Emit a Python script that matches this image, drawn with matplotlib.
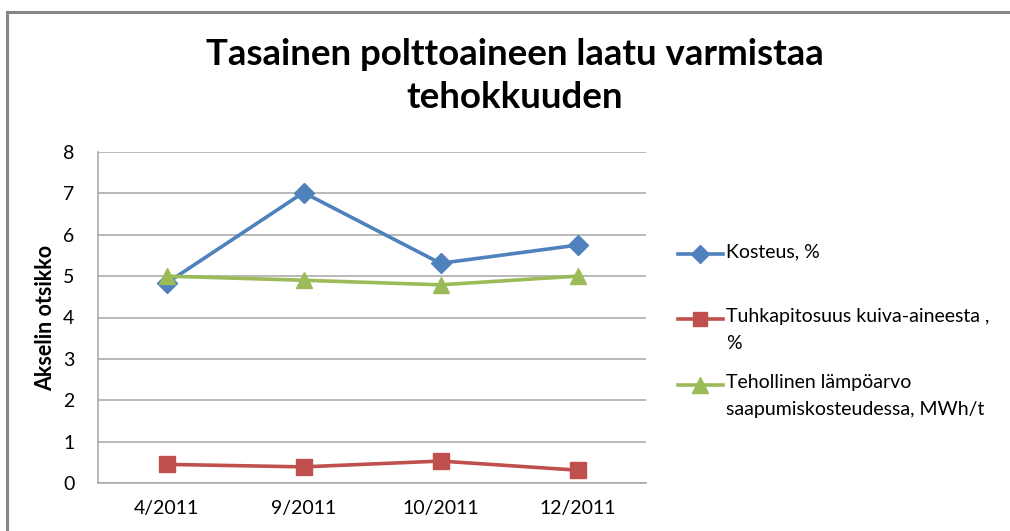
import matplotlib
matplotlib.use("Agg")
import matplotlib.pyplot as plt
from matplotlib.lines import Line2D

plt.rcParams['font.family'] = ['Lato', 'DejaVu Sans']

categories = ["4/2011", "9/2011", "10/2011", "12/2011"]
kosteus = [4.83, 7.02, 5.31, 5.75]
tuhka = [0.45, 0.39, 0.53, 0.31]
tehollinen = [5.0, 4.9, 4.79, 5.0]
series_names = ["Kosteus, %", "Tuhkapitosuus kuiva-aineesta ,\n%",
                "Tehollinen lämpöarvo\nsaapumiskosteudessa, MWh/t"]
title = "Tasainen polttoaineen laatu varmistaa\ntehokkuuden"
ylabel = "Akselin otsikko"

W, H = 1010, 531
fig = plt.figure(figsize=(W / 100, H / 100), dpi=100)
fig.patch.set_facecolor("white")

# outer chart frame (left and top visible)
fig.add_artist(Line2D([7 / W, 7 / W], [0, 1 - 12 / H], transform=fig.transFigure,
                      color="#868686", lw=2.2))
fig.add_artist(Line2D([7 / W, 1], [1 - 12 / H, 1 - 12 / H], transform=fig.transFigure,
                      color="#868686", lw=2.2))

left, right, top, bottom = 98, 646, 152, 483
ax = fig.add_axes([left / W, 1 - bottom / H, (right - left) / W, (bottom - top) / H])

x = list(range(len(categories)))
colors = ["#4F81BD", "#C0504D", "#9BBB59"]
markers = ["D", "s", "^"]
msizes = [10, 11, 12]
data = [kosteus, tuhka, tehollinen]
for vals, c, m, ms in zip(data, colors, markers, msizes):
    ax.plot(x, vals, color=c, lw=2.6, marker=m, markersize=ms,
            markeredgecolor=c, markerfacecolor=c, zorder=3, clip_on=False)

ax.set_xlim(-0.5, len(categories) - 0.5)
ax.set_ylim(0, 8)
ax.set_yticks(range(0, 9))
ax.set_xticks(x)
ax.set_xticklabels(categories)
ax.yaxis.grid(True, color="#A6A6A6", lw=1.1)
ax.set_axisbelow(True)
for s in ["top", "right"]:
    ax.spines[s].set_visible(False)
for s in ["left", "bottom"]:
    ax.spines[s].set_color("#A6A6A6")
    ax.spines[s].set_linewidth(1.1)
ax.tick_params(axis="both", length=0, labelsize=14, colors="#000000")
ax.tick_params(axis="y", pad=17)
ax.tick_params(axis="x", pad=12)
ax.set_ylabel(ylabel, fontsize=15.5, fontweight="bold")
ax.yaxis.set_label_coords(-0.076, 0.5)

fig.text(515 / W, 1 - 76 / H, title, ha="center", va="center",
         fontsize=26.4, fontweight="bold", linespacing=1.35)

# legend
leg_y = [254, 319, 385]
for name, c, m, ms, yy in zip(series_names, colors, markers, msizes, leg_y):
    yf = 1 - yy / H
    fig.add_artist(Line2D([678 / W, 723 / W], [yf, yf], transform=fig.transFigure,
                          color=c, lw=2.6))
    fig.add_artist(Line2D([700 / W], [yf], transform=fig.transFigure, color=c,
                          marker=m, markersize=ms * 0.95, markeredgecolor=c,
                          markerfacecolor=c, lw=0))
    fig.text(726 / W, yf + 11 / H, name, ha="left", va="top", fontsize=14,
             linespacing=1.7)

fig.savefig("out.png", dpi=100)
